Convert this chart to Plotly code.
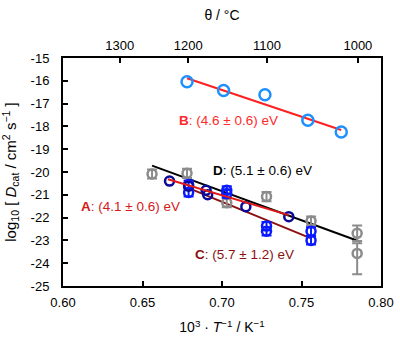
import plotly.graph_objects as go

# ---- data ----
# B series (light blue open circles)
b_x = [0.678, 0.701, 0.727, 0.754, 0.775]
b_y = [-16.04, -16.43, -16.61, -17.73, -18.25]
b_fit_x = [0.678, 0.775]
b_fit_y = [-15.89, -18.16]

# A series (navy open circles)
a_x = [0.667, 0.679, 0.690, 0.691, 0.715, 0.742]
a_y = [-20.40, -20.62, -20.80, -21.00, -21.52, -21.96]
a_fit_x = [0.666, 0.742]
a_fit_y = [-20.32, -21.89]

# C series (blue open circles with error bars)
c_x = [0.679, 0.679, 0.703, 0.703, 0.728, 0.728, 0.756, 0.756]
c_y = [-20.55, -20.90, -20.80, -20.95, -22.37, -22.60, -22.60, -23.00]
c_err = [0.18, 0.18, 0.18, 0.18, 0.18, 0.18, 0.18, 0.18]
c_fit_x = [0.679, 0.756]
c_fit_y = [-20.71, -22.91]

# D series (grey open circles with error bars)
d_x = [0.656, 0.678, 0.703, 0.728, 0.756, 0.785, 0.785]
d_y = [-20.09, -20.06, -21.35, -21.08, -22.15, -22.69, -23.57]
d_err_plus = [0.2, 0.2, 0.2, 0.2, 0.2, 0.34, 0.45]
d_err_minus = [0.2, 0.2, 0.2, 0.2, 0.2, 0.34, 0.92]
d_fit_x = [0.656, 0.787]
d_fit_y = [-19.72, -23.06]

# axes
x_ticks = [0.60, 0.65, 0.70, 0.75, 0.80]
x_ticktext = ["0.60", "0.65", "0.70", "0.75", "0.80"]
y_ticks = [-15, -16, -17, -18, -19, -20, -21, -22, -23, -24, -25]
y_ticktext = ["-15", "-16", "-17", "-18", "-19", "-20", "-21", "-22", "-23", "-24", "-25"]
theta_ticks = [1300, 1200, 1100, 1000]

labels = [
    ("B", ": (4.6 ± 0.6) eV", 0.6718, -17.73, "#ff2a2a"),
    ("D", ": (5.1 ± 0.6) eV", 0.6932, -19.93, "#000000"),
    ("A", ": (4.1 ± 0.6) eV", 0.6100, -21.50, "#d41a1a"),
    ("C", ": (5.7 ± 1.2) eV", 0.6819, -23.61, "#8b1010"),
]

FONT = "Liberation Sans, Arial, sans-serif"

fig = go.Figure()

# fit lines
fig.add_trace(go.Scatter(x=d_fit_x, y=d_fit_y, mode="lines",
                         line=dict(color="#000000", width=2), showlegend=False))
fig.add_trace(go.Scatter(x=c_fit_x, y=c_fit_y, mode="lines",
                         line=dict(color="#8b1010", width=2), showlegend=False))

# D grey
fig.add_trace(go.Scatter(
    x=d_x, y=d_y, mode="markers", showlegend=False,
    marker=dict(symbol="circle-open", size=9, color="#8c8c8c", line=dict(width=2.5)),
    error_y=dict(type="data", symmetric=False, array=d_err_plus, arrayminus=d_err_minus,
                 color="#8c8c8c", thickness=2, width=5)))

# C blue
fig.add_trace(go.Scatter(
    x=c_x, y=c_y, mode="markers", showlegend=False,
    marker=dict(symbol="circle-open", size=9, color="#0a1aff", line=dict(width=2.5)),
    error_y=dict(type="data", array=c_err, color="#0a1aff", thickness=2, width=5)))

# A navy
fig.add_trace(go.Scatter(
    x=a_x, y=a_y, mode="markers", showlegend=False,
    marker=dict(symbol="circle-open", size=9, color="#0a0a9a", line=dict(width=2.5))))

fig.add_trace(go.Scatter(x=a_fit_x, y=a_fit_y, mode="lines",
                         line=dict(color="#e01818", width=2), showlegend=False))

# B
fig.add_trace(go.Scatter(x=b_fit_x, y=b_fit_y, mode="lines",
                         line=dict(color="#ff2020", width=2), showlegend=False))
fig.add_trace(go.Scatter(
    x=b_x, y=b_y, mode="markers", showlegend=False,
    marker=dict(symbol="circle-open", size=11, color="#1e90ff", line=dict(width=2.5))))

# invisible trace on top axis
fig.add_trace(go.Scatter(x=[0.7], y=[-20], xaxis="x2", mode="markers",
                         marker=dict(opacity=0), showlegend=False, hoverinfo="skip"))

for bold, rest, x, y, col in labels:
    fig.add_annotation(x=x, y=y, xref="x", yref="y", xanchor="left", yanchor="middle",
                       text=f"<b>{bold}</b>{rest}", showarrow=False,
                       font=dict(family=FONT, size=13.5, color=col))

axis_common = dict(showgrid=False, zeroline=False, showline=True, linecolor="black",
                   linewidth=2, ticks="inside", ticklen=5, tickwidth=2, tickcolor="black",
                   automargin=False,
                   tickfont=dict(family=FONT, size=13, color="black"))

fig.update_layout(
    width=400, height=343,
    margin=dict(l=63, r=19, t=58, b=57),
    paper_bgcolor="white", plot_bgcolor="white",
    font=dict(family=FONT, size=13, color="black"),
    xaxis=dict(range=[0.60, 0.80], tickvals=x_ticks, ticktext=x_ticktext,
               mirror=True, ticklabelstandoff=3,
               title=dict(text="10<sup>3</sup> · <i>T</i><sup>−1</sup> / K<sup>−1</sup>",
                          standoff=14, font=dict(size=14)),
               **axis_common),
    xaxis2=dict(range=[0.60, 0.80], overlaying="x", side="top", anchor="y",
                tickvals=[1000.0 / (t + 273.15) for t in theta_ticks],
                ticktext=[str(t) for t in theta_ticks],
                ticklabelstandoff=1,
                title=dict(text="θ / °C", standoff=14, font=dict(size=14)),
                **axis_common),
    yaxis=dict(range=[-25, -15], tickvals=y_ticks, ticktext=y_ticktext,
               mirror=True, ticklabelstandoff=9,
               title=dict(text="log<sub>10</sub> [ <i>D</i><sub>cat</sub> / cm<sup>2</sup> s<sup>−1</sup> ]",
                          standoff=12, font=dict(size=15)),
               **axis_common),
)

fig.write_html("out.html", config={"displayModeBar": False},
               post_script="document.body.style.margin='0';document.body.style.overflow='hidden';")
